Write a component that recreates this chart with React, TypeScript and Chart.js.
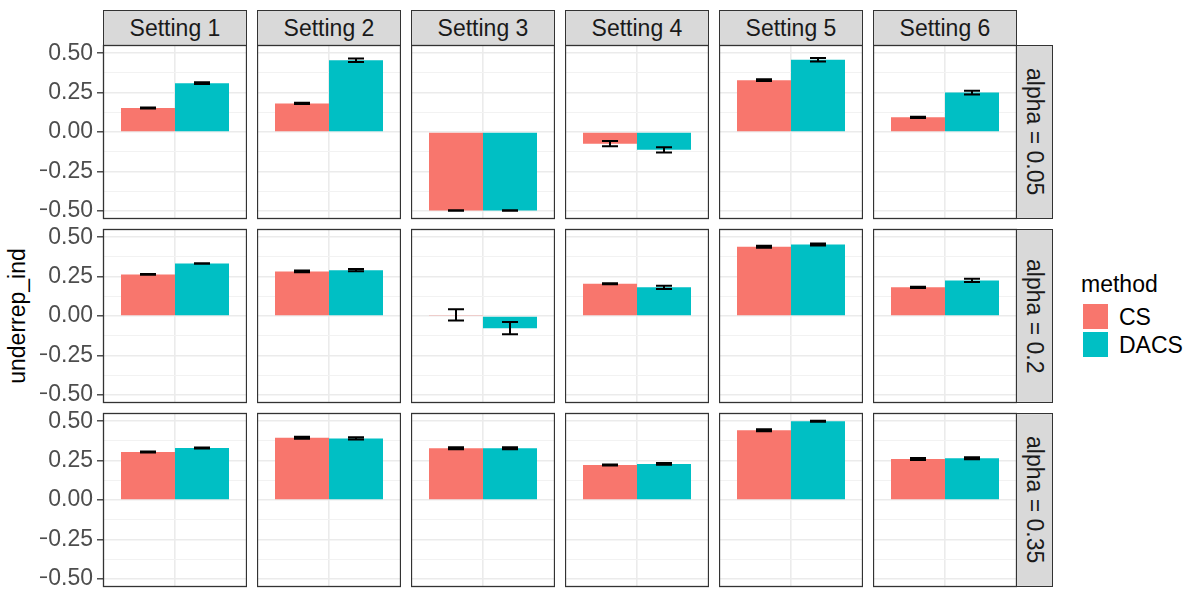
import React, { useEffect, useRef } from "react";
import { Chart, registerables } from "chart.js";

Chart.register(...registerables);

const settingLabels = ["Setting 1", "Setting 2", "Setting 3", "Setting 4", "Setting 5", "Setting 6"];
const alphaLabels = ["alpha = 0.05", "alpha = 0.2", "alpha = 0.35"];
const methodLabels = ["CS", "DACS"];
const methodColors = ["#F8766D", "#00BFC4"];
const yAxisTitle = "underrep_ind";
const legendTitle = "method";

// rows = alpha level, columns = setting
const csValues = [
  [0.152, 0.181, -0.498, -0.074, 0.329, 0.093],
  [0.264, 0.283, 0.007, 0.205, 0.439, 0.182],
  [0.304, 0.395, 0.328, 0.222, 0.443, 0.26],
];
const csErrors = [
  [0.003, 0.004, 0.002, 0.017, 0.006, 0.004],
  [0.003, 0.005, 0.036, 0.003, 0.006, 0.004],
  [0.003, 0.007, 0.006, 0.003, 0.006, 0.006],
];
const dacsValues = [
  [0.31, 0.455, -0.498, -0.113, 0.458, 0.25],
  [0.333, 0.291, -0.077, 0.182, 0.454, 0.226],
  [0.33, 0.391, 0.328, 0.229, 0.5, 0.265],
];
const dacsErrors = [
  [0.005, 0.011, 0.002, 0.017, 0.011, 0.012],
  [0.002, 0.007, 0.039, 0.01, 0.006, 0.011],
  [0.003, 0.007, 0.006, 0.005, 0.003, 0.006],
];
const yMin = -0.552;
const yMax = 0.552;
const yStep = 0.125;
const yMajorStep = 0.25;

// layout
const FONT = '"Liberation Sans", Arial, Helvetica, sans-serif';
const colLefts = [103, 257, 411, 565, 719, 873];
const rowTops = [45, 229, 413];
const panelW = 144;
const panelH = 174;
const axisW = 63;
const padV = 12;

const isMajor = (v: number) => Math.abs(v / yMajorStep - Math.round(v / yMajorStep)) < 1e-6;
const fmt = (v: number) => {
  const s = Math.abs(v).toFixed(2);
  return v < -1e-9 ? "\u2212" + s : s;
};

const panelPlugin = {
  id: "panelDecor",
  afterDatasetsDraw(chart: any) {
    const ctx = chart.ctx;
    const y = chart.scales.y;
    chart.data.datasets.forEach((ds: any, i: number) => {
      const meta = chart.getDatasetMeta(i);
      meta.data.forEach((el: any, j: number) => {
        const v = ds.data[j];
        const e = ds.errors[j];
        const yt = y.getPixelForValue(v + e);
        const yb = y.getPixelForValue(v - e);
        ctx.save();
        ctx.strokeStyle = "#000000";
        ctx.lineWidth = 2;
        ctx.beginPath();
        ctx.moveTo(el.x, yt);
        ctx.lineTo(el.x, yb);
        ctx.moveTo(el.x - 8, yt);
        ctx.lineTo(el.x + 8, yt);
        ctx.moveTo(el.x - 8, yb);
        ctx.lineTo(el.x + 8, yb);
        ctx.stroke();
        ctx.restore();
      });
    });
  },
  afterDraw(chart: any) {
    const ctx = chart.ctx;
    const { left, top, right, bottom } = chart.chartArea;
    ctx.save();
    ctx.strokeStyle = "#333333";
    ctx.lineWidth = 1.3;
    ctx.strokeRect(left + 0.5, top + 0.5, right - left - 1, bottom - top - 1);
    ctx.restore();
  },
};

export default function App() {
  const refs = useRef<(HTMLCanvasElement | null)[]>([]);

  useEffect(() => {
    const charts: Chart[] = [];
    for (let r = 0; r < alphaLabels.length; r++) {
      for (let c = 0; c < settingLabels.length; c++) {
        const canvas = refs.current[r * settingLabels.length + c];
        if (!canvas) continue;
        const first = c === 0;
        const values = [csValues[r][c], dacsValues[r][c]];
        const errs = [csErrors[r][c], dacsErrors[r][c]];
        const chart = new Chart(canvas, {
          type: "bar",
          data: {
            labels: [""],
            datasets: methodLabels.map((m, k) => ({
              label: m,
              data: [values[k]],
              errors: [errs[k]],
              backgroundColor: methodColors[k],
              borderWidth: 0,
              categoryPercentage: 0.75,
              barPercentage: 1,
            })) as any,
          },
          options: {
            animation: false,
            responsive: false,
            maintainAspectRatio: false,
            events: [],
            layout: { padding: { top: padV, bottom: padV, left: 0, right: 0 } },
            plugins: {
              legend: { display: false },
              tooltip: { enabled: false },
              title: { display: false },
            },
            scales: {
              x: {
                type: "category",
                offset: true,
                border: { display: false },
                grid: { offset: false, color: "#EBEBEB", lineWidth: 1.6, drawTicks: false },
                ticks: { display: false },
                afterFit: (s: any) => {
                  s.height = 0;
                  s.paddingLeft = 0;
                  s.paddingRight = 0;
                },
              },
              y: {
                type: "linear",
                min: yMin,
                max: yMax,
                border: { display: false },
                ticks: {
                  display: first,
                  stepSize: yStep,
                  includeBounds: false,
                  autoSkip: false,
                  padding: 4,
                  color: "#4D4D4D",
                  font: { family: FONT, size: 23 },
                  callback: (v: any) => (isMajor(Number(v)) ? fmt(Number(v)) : ""),
                },
                grid: {
                  color: (ctx: any) => (ctx.tick && isMajor(ctx.tick.value) ? "#EBEBEB" : "#F2F2F2"),
                  lineWidth: (ctx: any) => (ctx.tick && isMajor(ctx.tick.value) ? 1.6 : 1),
                  drawTicks: first,
                  tickLength: 6,
                  tickColor: (ctx: any) =>
                    ctx.tick && isMajor(ctx.tick.value) ? "#333333" : "rgba(0,0,0,0)",
                  tickWidth: 1.3,
                },
                afterFit: (s: any) => {
                  s.width = first ? axisW : 0;
                  s.paddingTop = 0;
                  s.paddingBottom = 0;
                },
              },
            },
          } as any,
          plugins: [panelPlugin as any],
        });
        charts.push(chart);
      }
    }
    return () => charts.forEach((ch) => ch.destroy());
  }, []);

  const canvases: React.ReactNode[] = [];
  for (let r = 0; r < alphaLabels.length; r++) {
    for (let c = 0; c < settingLabels.length; c++) {
      const first = c === 0;
      const w = first ? panelW + axisW : panelW;
      const h = panelH + 2 * padV;
      canvases.push(
        <canvas
          key={`p${r}-${c}`}
          ref={(el) => {
            refs.current[r * settingLabels.length + c] = el;
          }}
          width={w}
          height={h}
          style={{
            position: "absolute",
            left: (first ? colLefts[c] - axisW : colLefts[c]) + "px",
            top: rowTops[r] - padV + "px",
            width: w + "px",
            height: h + "px",
          }}
        />
      );
    }
  }

  return (
    <div
      style={{
        position: "absolute",
        left: 0,
        top: 0,
        width: "1200px",
        height: "600px",
        background: "#ffffff",
        fontFamily: FONT,
        overflow: "hidden",
      }}
    >
      {settingLabels.map((s, c) => (
        <div
          key={s}
          style={{
            position: "absolute",
            left: colLefts[c] + "px",
            top: "10px",
            width: panelW + "px",
            height: "36px",
            boxSizing: "border-box",
            background: "#D9D9D9",
            border: "1.3px solid #333333",
            color: "#1A1A1A",
            fontSize: "23px",
            display: "flex",
            alignItems: "center",
            justifyContent: "center",
          }}
        >
          {s}
        </div>
      ))}
      {alphaLabels.map((a, r) => (
        <div
          key={a}
          style={{
            position: "absolute",
            left: colLefts[5] + panelW - 1 + "px",
            top: rowTops[r] + "px",
            width: "37px",
            height: panelH + "px",
            boxSizing: "border-box",
            background: "#D9D9D9",
            border: "1.3px solid #333333",
            color: "#1A1A1A",
            fontSize: "23px",
            display: "flex",
            alignItems: "center",
            justifyContent: "center",
          }}
        >
          <span style={{ writingMode: "vertical-rl", whiteSpace: "nowrap" }}>{a}</span>
        </div>
      ))}
      {canvases}
      <div
        style={{
          position: "absolute",
          left: 17 - 150 + "px",
          top: 316 - 15 + "px",
          width: "300px",
          height: "30px",
          lineHeight: "30px",
          textAlign: "center",
          transform: "rotate(-90deg)",
          fontSize: "23px",
          color: "#000000",
        }}
      >
        {yAxisTitle}
      </div>
      <div
        style={{
          position: "absolute",
          left: "1081px",
          top: "270px",
          height: "28px",
          lineHeight: "28px",
          fontSize: "23px",
          color: "#000000",
          whiteSpace: "nowrap",
        }}
      >
        {legendTitle}
      </div>
      {methodLabels.map((m, k) => (
        <React.Fragment key={m}>
          <div
            style={{
              position: "absolute",
              left: "1082px",
              top: 303 + k * 28 + "px",
              width: "27px",
              height: "27px",
              boxSizing: "border-box",
              background: methodColors[k],
              border: "1px solid #ffffff",
            }}
          />
          <div
            style={{
              position: "absolute",
              left: "1119px",
              top: 303 + k * 28 + "px",
              height: "28px",
              lineHeight: "28px",
              fontSize: "23px",
              color: "#000000",
              whiteSpace: "nowrap",
            }}
          >
            {m}
          </div>
        </React.Fragment>
      ))}
    </div>
  );
}
